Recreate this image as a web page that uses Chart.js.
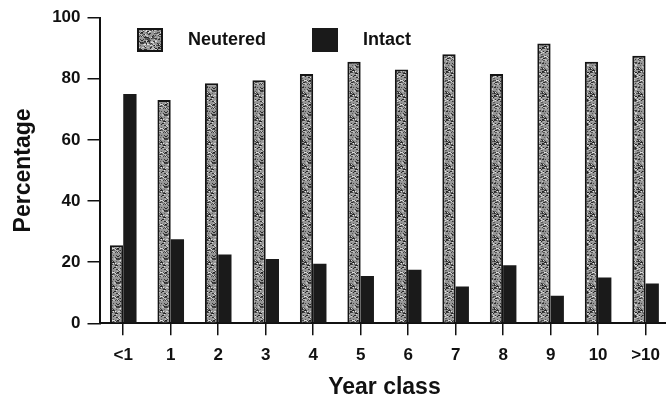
<!DOCTYPE html>
<html>
<head>
<meta charset="utf-8">
<title>Neutered and intact by year class</title>
<script src="https://cdn.jsdelivr.net/npm/chart.js@4.4.1/dist/chart.umd.min.js"></script>
<style>
    html, body { margin: 0; padding: 0; background: #fff; overflow: hidden; }
    #wrap { width: 670px; height: 401px; }
</style>
</head>
<body>
<div id="wrap"><canvas id="yearChart" width="670" height="401"></canvas></div>
<script>
const yearClasses = ['<1', '1', '2', '3', '4', '5', '6', '7', '8', '9', '10', '>10'];
const neuteredPct = [25.5, 73, 78.5, 79.5, 81.5, 85.5, 83, 88, 81.5, 91.5, 85.5, 87.5];
const intactPct = [75, 27.5, 22.5, 21, 19.5, 15.5, 17.5, 12, 19, 9, 15, 13];
const yTicks = [0, 20, 40, 60, 80, 100];

const INK = '#111';
const TICK_FONT = { family: '"Liberation Sans", Arial, sans-serif', size: 17, weight: 'bold' };
const TITLE_FONT = { family: '"Liberation Sans", Arial, sans-serif', size: 23, weight: 'bold', lineHeight: 1 };

// grey speckled fill for the neutered bars (fixed seed so it is the same every run)
function speckle() {
    const c = document.createElement('canvas');
    c.width = 24;
    c.height = 24;
    const g = c.getContext('2d');
    g.fillStyle = '#969696';
    g.fillRect(0, 0, 24, 24);
    let seed = 11;
    const next = () => (seed = (seed * 16807) % 2147483647) / 2147483647;
    for (let i = 0; i < 300; i++) {
        const dark = next() < 0.62;
        const shade = dark ? 30 + Math.floor(next() * 70) : 175 + Math.floor(next() * 55);
        g.fillStyle = `rgb(${shade},${shade},${shade})`;
        g.fillRect(Math.floor(next() * 24), Math.floor(next() * 24), next() > 0.6 ? 2 : 1, 1);
    }
    return g.createPattern(c, 'repeat');
}

// legend sits inside the plot, under the top of the y axis
const insideLegend = {
    id: 'insideLegend',
    afterDraw(chart) {
        const { ctx, chartArea } = chart;
        const offsets = [37.5, 212.5];
        ctx.save();
        ctx.font = 'bold 18px "Liberation Sans", Arial, sans-serif';
        ctx.textBaseline = 'middle';
        chart.data.datasets.forEach((ds, i) => {
            const x = chartArea.left + offsets[i];
            const y = chartArea.top + 10.5;
            ctx.fillStyle = ds.backgroundColor;
            ctx.fillRect(x, y, 26, 24);
            if (ds.borderWidth) {
                ctx.lineWidth = 2;
                ctx.strokeStyle = ds.borderColor;
                ctx.strokeRect(x + 1, y + 1, 24, 22);
            }
            ctx.fillStyle = INK;
            ctx.fillText(ds.label, x + 51, y + 12);
        });
        ctx.restore();
    }
};

const ctx = document.getElementById('yearChart').getContext('2d');

new Chart(ctx, {
    type: 'bar',
    data: {
        labels: yearClasses,
        datasets: [
            {
                label: 'Neutered',
                data: neuteredPct,
                backgroundColor: speckle(),
                borderColor: '#141414',
                borderWidth: 2,
                borderSkipped: 'bottom'
            },
            {
                label: 'Intact',
                data: intactPct,
                backgroundColor: '#1a1a1a',
                borderWidth: 0
            }
        ]
    },
    options: {
        responsive: false,
        animation: false,
        categoryPercentage: 0.56,
        barPercentage: 1,
        layout: { padding: { top: 17.5, left: 0, right: 0, bottom: 0 } },
        plugins: {
            legend: { display: false },
            tooltip: { enabled: false }
        },
        scales: {
            x: {
                offset: true,
                grid: {
                    offset: false,
                    drawOnChartArea: false,
                    drawTicks: true,
                    tickLength: 12,
                    color: INK,
                    lineWidth: 1.5
                },
                border: { display: true, color: INK, width: 2 },
                ticks: { color: INK, font: TICK_FONT, padding: 10, maxRotation: 0, autoSkip: false },
                title: {
                    display: true,
                    text: 'Year class',
                    color: INK,
                    font: TITLE_FONT,
                    padding: { top: 0, bottom: 1.5 }
                },
                afterFit(scale) { scale.height = 77.7; }
            },
            y: {
                min: yTicks[0],
                max: yTicks[yTicks.length - 1],
                grid: {
                    drawOnChartArea: false,
                    drawTicks: true,
                    tickLength: 12,
                    color: INK,
                    lineWidth: 1.5
                },
                border: { display: true, color: INK, width: 2 },
                ticks: {
                    stepSize: yTicks[1] - yTicks[0],
                    color: INK,
                    font: TICK_FONT,
                    padding: 7
                },
                title: {
                    display: true,
                    text: 'Percentage',
                    color: INK,
                    font: TITLE_FONT,
                    padding: { top: 12.5, bottom: 0 }
                },
                afterFit(scale) { scale.width = 99.5; }
            }
        }
    },
    plugins: [insideLegend]
});
</script>
</body>
</html>
